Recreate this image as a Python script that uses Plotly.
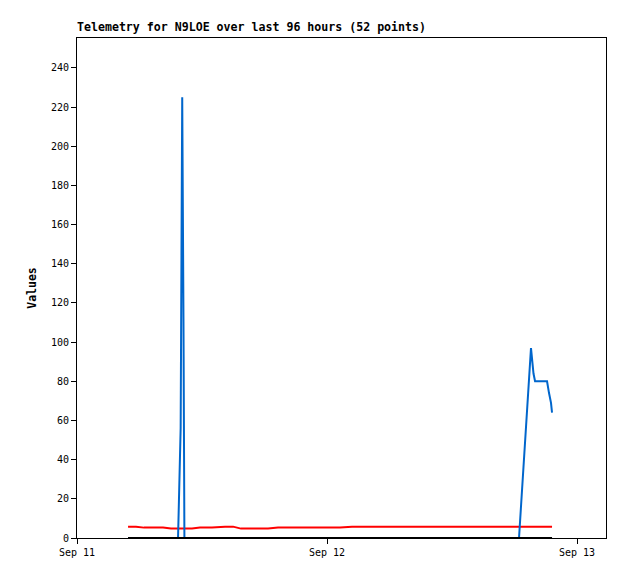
import plotly.graph_objects as go
from datetime import datetime, timedelta

# Sample times as hours after Sep 11 00:00
hours = [4.90, 5.66, 6.43, 7.30, 8.26, 9.02, 9.41, 9.70, 9.95, 10.02,
         10.10, 10.22, 10.31, 10.41, 11.04, 11.81, 12.96, 14.21, 14.98, 15.74,
         17.09, 18.34, 19.30, 20.45, 21.60, 22.85, 24.00, 25.25, 26.40, 27.65,
         28.90, 30.24, 31.49, 32.74, 34.08, 35.33, 36.58, 37.73, 38.98, 40.13,
         41.28, 42.43, 43.58, 43.68, 43.82, 43.97, 44.45, 44.74, 45.12, 45.31,
         45.50, 45.60]
red = [5.8, 5.8, 5.3, 5.3, 5.3, 4.8, 4.8, 4.8, 4.8, 4.8,
       4.8, 4.8, 4.8, 4.8, 4.8, 5.3, 5.3, 5.8, 5.8, 4.8,
       4.8, 4.8, 5.3, 5.3, 5.3, 5.3, 5.3, 5.3, 5.8, 5.8,
       5.8, 5.8, 5.8, 5.8, 5.8, 5.8, 5.8, 5.8, 5.8, 5.8,
       5.8, 5.8, 5.8, 5.8, 5.8, 5.8, 5.8, 5.8, 5.8, 5.8,
       5.8, 5.8]
blue = [0, 0, 0, 0, 0, 0, 0, 0, 56, 168,
        225, 112, 0, 0, 0, 0, 0, 0, 0, 0,
        0, 0, 0, 0, 0, 0, 0, 0, 0, 0,
        0, 0, 0, 0, 0, 0, 0, 0, 0, 0,
        0, 0, 97, 91, 84, 80, 80, 80, 80, 74,
        69, 64]
black = [0] * 52

t0 = datetime(2023, 9, 11)
times = [t0 + timedelta(hours=h) for h in hours]

mono = "DejaVu Sans Mono"
fig = go.Figure()
fig.add_trace(go.Scatter(x=times, y=red, mode="lines", line=dict(color="#ff0000", width=2)))
fig.add_trace(go.Scatter(x=times, y=blue, mode="lines", line=dict(color="#0066cc", width=2)))
fig.add_trace(go.Scatter(x=times, y=black, mode="lines", line=dict(color="#000000", width=2)))

W, H = 610, 571
fig.update_layout(
    width=W, height=H,
    margin=dict(l=69, r=12, t=30, b=41),
    paper_bgcolor="white", plot_bgcolor="white",
    showlegend=False,
    title=dict(text="<b>Telemetry for N9LOE over last 96 hours (52 points)</b>",
               x=69/W, xanchor="left", y=1-23/H, yanchor="bottom",
               font=dict(family=mono, size=11.6, color="black")),
    font=dict(family=mono, size=10, color="black"),
)
fig.update_xaxes(
    type="date",
    range=[t0, t0 + timedelta(hours=50.78)],
    tickvals=[t0, t0 + timedelta(days=1), t0 + timedelta(days=2)],
    ticktext=["Sep 11", "Sep 12", "Sep 13"],
    ticks="outside", ticklen=5, tickcolor="black",
    showline=True, linecolor="black", linewidth=1, mirror=True,
    showgrid=False, zeroline=False,
)
fig.update_yaxes(
    range=[0, 255.3],
    tickvals=list(range(0, 241, 20)),
    ticks="outside", ticklen=5, tickcolor="black",
    showline=True, linecolor="black", linewidth=1, mirror=True,
    showgrid=False, zeroline=False,
    title=dict(text="<b>Values</b>", font=dict(family=mono, size=11.5), standoff=11),
)
fig.write_html("out.html")
